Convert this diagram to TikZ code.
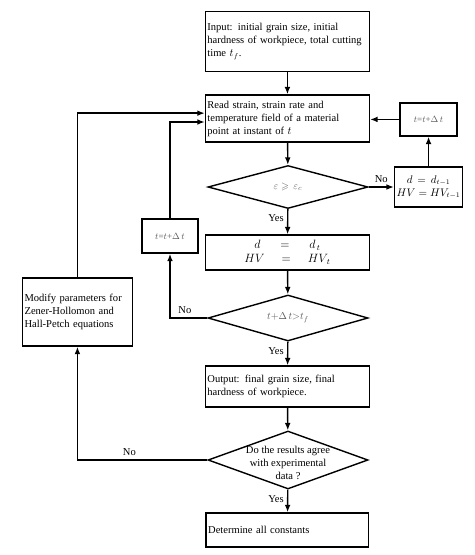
\documentclass[tikz,border=0pt]{standalone}
\usepackage{amssymb}
\usepackage{fontspec}
\setmainfont{Liberation Serif}
\usetikzlibrary{shapes.geometric,arrows.meta}

\tikzset{
  flowbox/.style={draw, line width=1.4pt, inner sep=2pt, align=left,
    font=\fontsize{10.5}{13}\selectfont},
  decision/.style={draw, line width=1.4pt, diamond, inner sep=0pt,
    minimum width=5.6cm},
  flow/.style={line width=1.4pt, -{Latex[length=2.6mm,width=2mm]}},
  tag/.style={font=\fontsize{10.5}{13}\selectfont},
  mathtxt/.style={text=black!65}
}

\begin{document}
\begin{tikzpicture}
    \useasboundingbox (0,0) rectangle (16.59,-19.425);

    % Main column
    \node[flowbox, text width=5.6cm, minimum height=2.1cm] (input) at (10.06,-1.45)
      {Input: initial grain size, initial\\\mbox{hardness of workpiece, total cutting}\\time $t_f$.};
    \node[flowbox, text width=5.6cm, minimum height=1.645cm] (read) at (10.06,-4.15)
      {Read strain, strain rate and\\temperature field of a material\\point at instant of $t$};
    \node[decision, minimum height=1.505cm, label={[mathtxt]center:$\varepsilon \geqslant\, \varepsilon_c$}] (crit) at (10.08,-6.545) {};
    \node[flowbox, text width=5.6cm, minimum height=1.225cm, align=center,
      font=\fontsize{12}{14}\selectfont] (dcur) at (10.06,-8.84)
      {$d \;=\; d_{\,t}$\\$HV \;=\; HV_{\,t}$};
    \node[decision, minimum height=1.61cm, label={[mathtxt]center:$t{+}\Delta\, t{>}t_f$}] (tend) at (10.08,-11.13) {};
    \node[flowbox, text width=5.6cm, minimum height=1.435cm] (output) at (10.06,-13.53)
      {Output: final grain size, final\\hardness of workpiece.};
    \node[decision, minimum height=2.03cm,
      label={[align=center, font=\fontsize{10.5}{13}\selectfont, yshift=-0.1cm]center:Do the results agree\\with experimental\\data ?}] (agree) at (10.08,-16.1) {};
    \node[flowbox, text width=5.55cm, minimum height=1.19cm] (final) at (10.06,-18.55)
      {Determine all constants};

    % Side boxes
    \node[flowbox, minimum width=2.0cm, minimum height=1.155cm, align=center] (stepr) at (15.0,-4.18)
      {\color{black!65}\small $t$=$t$+$\Delta\, t$};
    \node[flowbox, minimum width=2.38cm, minimum height=1.4cm, align=center] (dprev) at (15.0,-6.545)
      {$d \,=\, d_{t-1}$\\$HV = HV_{t-1}$};
    \node[flowbox, minimum width=1.96cm, minimum height=1.19cm, align=center] (stepl) at (5.95,-8.26)
      {\color{black!65}\small $t$=$t$+$\Delta\, t$};
    \node[flowbox, text width=3.7cm, minimum height=2.38cm] (modify) at (2.71,-10.92)
      {Modify parameters for\\Zener-Hollomon and\\Hall-Petch equations};

    % Connectors
    \draw[flow] (input) -- (read);
    \draw[flow] (read) -- (crit);
    \draw[flow] (crit) -- node[tag, left, pos=0.35] {Yes} (dcur);
    \draw[flow] (dcur) -- (tend);
    \draw[flow] (tend) -- node[tag, left, pos=0.4] {Yes} (output);
    \draw[flow] (output) -- (agree);
    \draw[flow] (agree) -- node[tag, left, pos=0.4] {Yes} (final);

    \draw[flow] (crit.east) -- node[tag, above] {No} (dprev.west);
    \draw[flow] (dprev) -- (stepr);
    \draw[flow] (stepr.west) -- (stepr.west -| read.east);

    \draw[flow] (tend.west) -| node[tag, above, pos=0.3] {No} (stepl.south);
    \draw[flow] (stepl.north) |- ([yshift=-0.12cm]read.west);

    \draw[flow] (agree.west) -| node[tag, above, pos=0.3] {No} (modify.south);
    \draw[flow] (modify.north) |- ([yshift=0.19cm]read.west);
\end{tikzpicture}
\end{document}
